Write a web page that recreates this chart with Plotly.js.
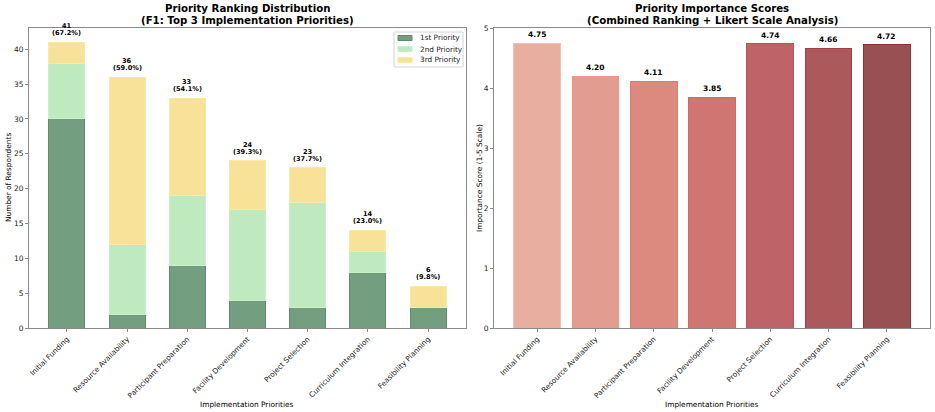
<!DOCTYPE html>
<html>
<head>
<meta charset="utf-8">
<script src="https://cdn.plot.ly/plotly-3.0.1.min.js"></script>
<style>html,body{margin:0;padding:0;background:#fff;}#chart{width:935px;height:412px;}</style>
</head>
<body>
<div id="chart"></div>
<script>
var categories = ["Initial Funding","Resource Availability","Participant Preparation","Facility Development","Project Selection","Curriculum Integration","Feasibility Planning"];
var first = [30, 2, 9, 4, 3, 8, 3];
var second = [8, 10, 10, 13, 15, 3, 0];
var third = [3, 24, 14, 7, 5, 3, 3];
var respondents = 61;
var seriesNames = ["1st Priority", "2nd Priority", "3rd Priority"];
var scores = [4.75, 4.20, 4.11, 3.85, 4.74, 4.66, 4.72];
var seriesColors = ["rgb(115,158,128)", "rgb(191,234,191)", "rgb(247,226,152)"];
var seriesEdges = ["rgb(95,140,110)", "rgb(200,240,200)", "rgb(250,232,165)"];
var scoreColors = ["rgb(232,174,160)","rgb(226,157,144)","rgb(220,138,127)","rgb(208,118,114)","rgb(190,99,103)","rgb(172,89,91)","rgb(152,80,82)"];
var scoreEdges = ["rgb(245,190,178)","rgb(236,150,138)","rgb(228,120,110)","rgb(215,100,95)","rgb(195,80,85)","rgb(170,60,65)","rgb(140,50,55)"];

var font = "DejaVu Sans, sans-serif";
var idx = categories.map(function(_, i){ return i; });
var totals = idx.map(function(i){ return first[i] + second[i] + third[i]; });
var stackData = [first, second, third];

var traces = stackData.map(function(d, k){
  return {type:"bar", name:seriesNames[k], x:idx, y:d, width:0.6, xaxis:"x", yaxis:"y", showlegend:false,
    marker:{color:seriesColors[k], line:{color:seriesEdges[k], width:1}}};
});
traces.push({type:"bar", name:"scores", x:idx, y:scores, width:0.8, xaxis:"x2", yaxis:"y2", showlegend:false,
   marker:{color:scoreColors, line:{color:scoreEdges, width:1}}});

var annotations = [];
idx.forEach(function(i){
  annotations.push({xref:"x", yref:"y", x:i, y:totals[i], yanchor:"bottom", yshift:3, showarrow:false,
    text:"<b>("+(totals[i]/respondents*100).toFixed(1)+"%)</b>", font:{family:font, size:6.6, color:"#000"}});
  annotations.push({xref:"x", yref:"y", x:i, y:totals[i], yanchor:"bottom", yshift:10, showarrow:false,
    text:"<b>"+totals[i]+"</b>", font:{family:font, size:6.6, color:"#000"}});
  annotations.push({xref:"x2", yref:"y2", x:i, y:scores[i], yanchor:"bottom", yshift:2, showarrow:false,
    text:"<b>"+scores[i].toFixed(2)+"</b>", font:{family:font, size:7.5, color:"#000"}});
});
function title(x, y, t){
  annotations.push({xref:"paper", yref:"paper", x:x/935, y:1-y/412, xanchor:"center", yanchor:"middle", showarrow:false,
    text:"<b>"+t+"</b>", font:{family:font, size:10.2, color:"#000"}});
}
title(247, 9, "Priority Ranking Distribution");
title(247, 21, "(F1: Top 3 Implementation Priorities)");
title(712, 9, "Priority Importance Scores");
title(712, 21, "(Combined Ranking + Likert Scale Analysis)");
annotations.push({xref:"paper", yref:"paper", x:247/935, y:1-404/412, xanchor:"center", yanchor:"middle", showarrow:false,
  text:"Implementation Priorities", font:{family:font, size:7.4, color:"#000"}});
annotations.push({xref:"paper", yref:"paper", x:712/935, y:1-404/412, xanchor:"center", yanchor:"middle", showarrow:false,
  text:"Implementation Priorities", font:{family:font, size:7.4, color:"#000"}});
annotations.push({xref:"paper", yref:"paper", x:8/935, y:1-178/412, xanchor:"center", yanchor:"middle", showarrow:false, textangle:-90,
  text:"Number of Respondents", font:{family:font, size:7.4, color:"#000"}});
annotations.push({xref:"paper", yref:"paper", x:479/935, y:1-178/412, xanchor:"center", yanchor:"middle", showarrow:false, textangle:-90,
  text:"Importance Score (1-5 Scale)", font:{family:font, size:7.4, color:"#000"}});

// legend (drawn by hand to match compact matplotlib legend)
var shapes = [{type:"rect", xref:"paper", yref:"paper", x0:394/935, x1:463/935, y0:1-67/412, y1:1-32/412,
  line:{color:"#d4d4d4", width:1}, fillcolor:"rgba(255,255,255,0.8)", layer:"above"}];
seriesNames.forEach(function(n, k){
  var cy = 38 + k*11;
  shapes.push({type:"rect", xref:"paper", yref:"paper", x0:398/935, x1:412/935, y0:1-(cy+2.5)/412, y1:1-(cy-2.5)/412,
    line:{color:seriesEdges[k], width:1}, fillcolor:seriesColors[k], layer:"above"});
  annotations.push({xref:"paper", yref:"paper", x:418/935, y:1-cy/412, xanchor:"left", yanchor:"middle", showarrow:false,
    text:n, font:{family:font, size:7.3, color:"#222"}});
});

var axisCommon = {showline:true, mirror:true, linecolor:"#8a8a8a", linewidth:1, ticks:"outside", ticklen:3, tickcolor:"#8a8a8a",
  showgrid:false, zeroline:false, tickfont:{family:font, size:7.5, color:"#222"}, fixedrange:true};

var layout = {
  width:935, height:412, margin:{l:0, r:0, t:0, b:0}, paper_bgcolor:"#fff", plot_bgcolor:"#fff",
  barmode:"stack", bargap:0, showlegend:false,
  xaxis: Object.assign({}, axisCommon, {domain:[29/935, 466/935], range:[-0.63, 6.63], tickmode:"array", tickvals:idx, ticktext:categories, tickangle:-45, anchor:"y", tickfont:{family:font, size:7.3, color:"#222"}}),
  yaxis: Object.assign({}, axisCommon, {domain:[1-328/412, 1-28/412], range:[0, 43.05], dtick:5, anchor:"x"}),
  xaxis2: Object.assign({}, axisCommon, {domain:[494/935, 930/935], range:[-0.74, 6.74], tickmode:"array", tickvals:idx, ticktext:categories, tickangle:-45, anchor:"y2", tickfont:{family:font, size:7.3, color:"#222"}}),
  yaxis2: Object.assign({}, axisCommon, {domain:[1-328/412, 1-28/412], range:[0, 5], dtick:1, anchor:"x2"}),
  annotations: annotations,
  shapes: shapes
};

Plotly.newPlot("chart", traces, layout, {displayModeBar:false, staticPlot:true});
</script>
</body>
</html>
